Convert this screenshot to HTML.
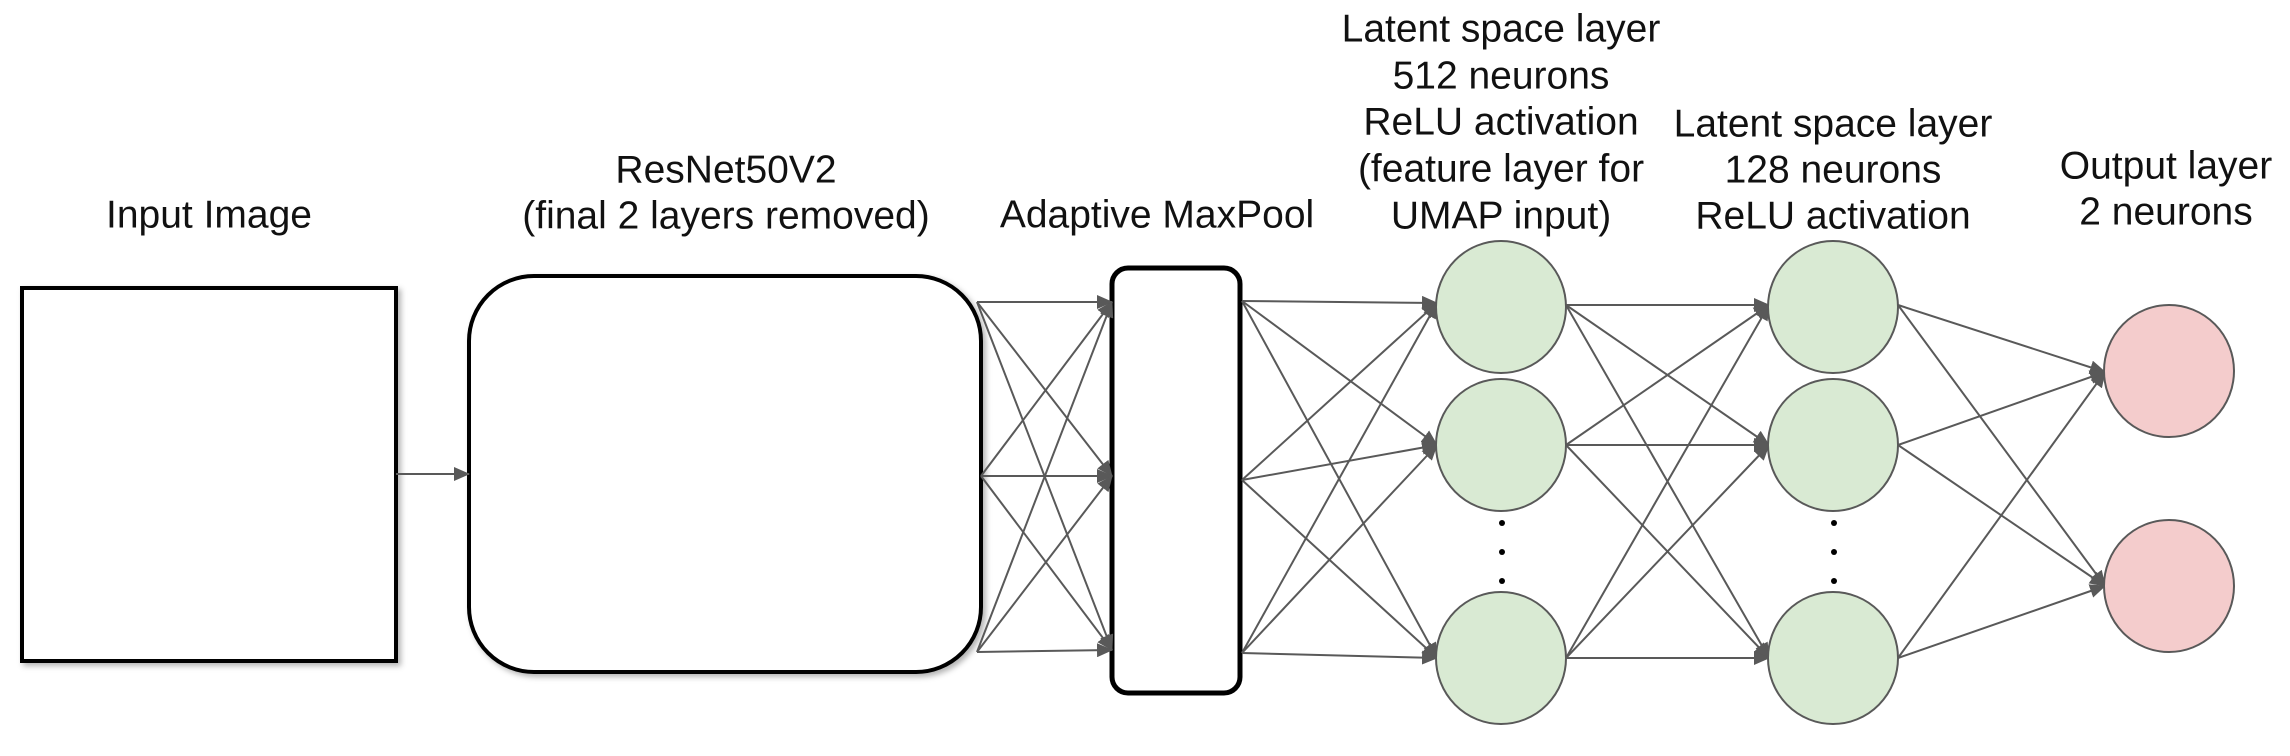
<!DOCTYPE html>
<html><head><style>html,body{margin:0;padding:0;background:#fff}svg{display:block}</style></head>
<body>
<svg width="2290" height="756" viewBox="0 0 2290 756" xmlns="http://www.w3.org/2000/svg">
<defs>
<marker id="a" markerUnits="userSpaceOnUse" markerWidth="16" markerHeight="14" refX="15" refY="7" orient="auto"><path d="M0,0 L16,7 L0,14 z" fill="#595959"/></marker>
<filter id="s" x="-10%" y="-10%" width="120%" height="120%"><feDropShadow dx="3" dy="3" stdDeviation="3" flood-color="#000" flood-opacity="0.3"/></filter>
</defs>
<g font-family="Liberation Sans, Arial, sans-serif" font-size="39" fill="#111" text-anchor="middle" dominant-baseline="central">
<text x="209" y="215">Input Image</text>
<text x="726" y="170">ResNet50V2</text>
<text x="726" y="216">(final 2 layers removed)</text>
<text x="1157" y="215">Adaptive MaxPool</text>
<text x="1501" y="29">Latent space layer</text>
<text x="1501" y="76">512 neurons</text>
<text x="1501" y="122">ReLU activation</text>
<text x="1501" y="169">(feature layer for</text>
<text x="1501" y="216">UMAP input)</text>
<text x="1833" y="124">Latent space layer</text>
<text x="1833" y="170">128 neurons</text>
<text x="1833" y="216">ReLU activation</text>
<text x="2166" y="166">Output layer</text>
<text x="2166" y="212">2 neurons</text>
</g>
<rect x="22" y="288" width="374" height="373" fill="#fff" stroke="#000" stroke-width="4" filter="url(#s)"/>
<rect x="469" y="276" width="512" height="396" rx="65" ry="65" fill="#fff" stroke="#000" stroke-width="4" filter="url(#s)"/>
<rect x="1112" y="268" width="128" height="425" rx="16" ry="16" fill="#fff" stroke="#000" stroke-width="5"/>
<g stroke="#595959" stroke-width="2" fill="none" marker-end="url(#a)">
<line x1="396" y1="474" x2="469" y2="474"/>
<line x1="977" y1="302" x2="1112" y2="302"/><line x1="977" y1="302" x2="1112" y2="476"/><line x1="977" y1="302" x2="1112" y2="650"/>
<line x1="981" y1="476" x2="1112" y2="302"/><line x1="981" y1="476" x2="1112" y2="476"/><line x1="981" y1="476" x2="1112" y2="650"/>
<line x1="977" y1="652" x2="1112" y2="302"/><line x1="977" y1="652" x2="1112" y2="476"/><line x1="977" y1="652" x2="1112" y2="650"/>
<line x1="1242" y1="301" x2="1437" y2="303"/><line x1="1242" y1="301" x2="1437" y2="445"/><line x1="1242" y1="301" x2="1437" y2="658"/>
<line x1="1242" y1="480" x2="1437" y2="303"/><line x1="1242" y1="480" x2="1437" y2="445"/><line x1="1242" y1="480" x2="1437" y2="658"/>
<line x1="1242" y1="653" x2="1437" y2="303"/><line x1="1242" y1="653" x2="1437" y2="445"/><line x1="1242" y1="653" x2="1437" y2="658"/>
<line x1="1566" y1="305" x2="1769" y2="305"/><line x1="1566" y1="305" x2="1769" y2="445"/><line x1="1566" y1="305" x2="1769" y2="658"/>
<line x1="1566" y1="445" x2="1769" y2="305"/><line x1="1566" y1="445" x2="1769" y2="445"/><line x1="1566" y1="445" x2="1769" y2="658"/>
<line x1="1566" y1="658" x2="1769" y2="305"/><line x1="1566" y1="658" x2="1769" y2="445"/><line x1="1566" y1="658" x2="1769" y2="658"/>
<line x1="1898" y1="305" x2="2105" y2="372"/><line x1="1898" y1="305" x2="2105" y2="586"/>
<line x1="1898" y1="445" x2="2105" y2="372"/><line x1="1898" y1="445" x2="2105" y2="586"/>
<line x1="1898" y1="658" x2="2105" y2="372"/><line x1="1898" y1="658" x2="2105" y2="586"/>
</g>
<g stroke="#595959" stroke-width="2" fill="#d9ead3">
<ellipse cx="1501" cy="307" rx="65" ry="66"/>
<ellipse cx="1501" cy="445" rx="65" ry="66"/>
<ellipse cx="1501" cy="658" rx="65" ry="66"/>
<ellipse cx="1833" cy="307" rx="65" ry="66"/>
<ellipse cx="1833" cy="445" rx="65" ry="66"/>
<ellipse cx="1833" cy="658" rx="65" ry="66"/>
</g>
<g stroke="#595959" stroke-width="2" fill="#f4cccc">
<ellipse cx="2169" cy="371" rx="65" ry="66"/>
<ellipse cx="2169" cy="586" rx="65" ry="66"/>
</g>
<g fill="#000">
<circle cx="1502" cy="523" r="3"/><circle cx="1502" cy="552" r="3"/><circle cx="1502" cy="581" r="3"/>
<circle cx="1834" cy="523" r="3"/><circle cx="1834" cy="552" r="3"/><circle cx="1834" cy="581" r="3"/>
</g>
</svg>
</body></html>
